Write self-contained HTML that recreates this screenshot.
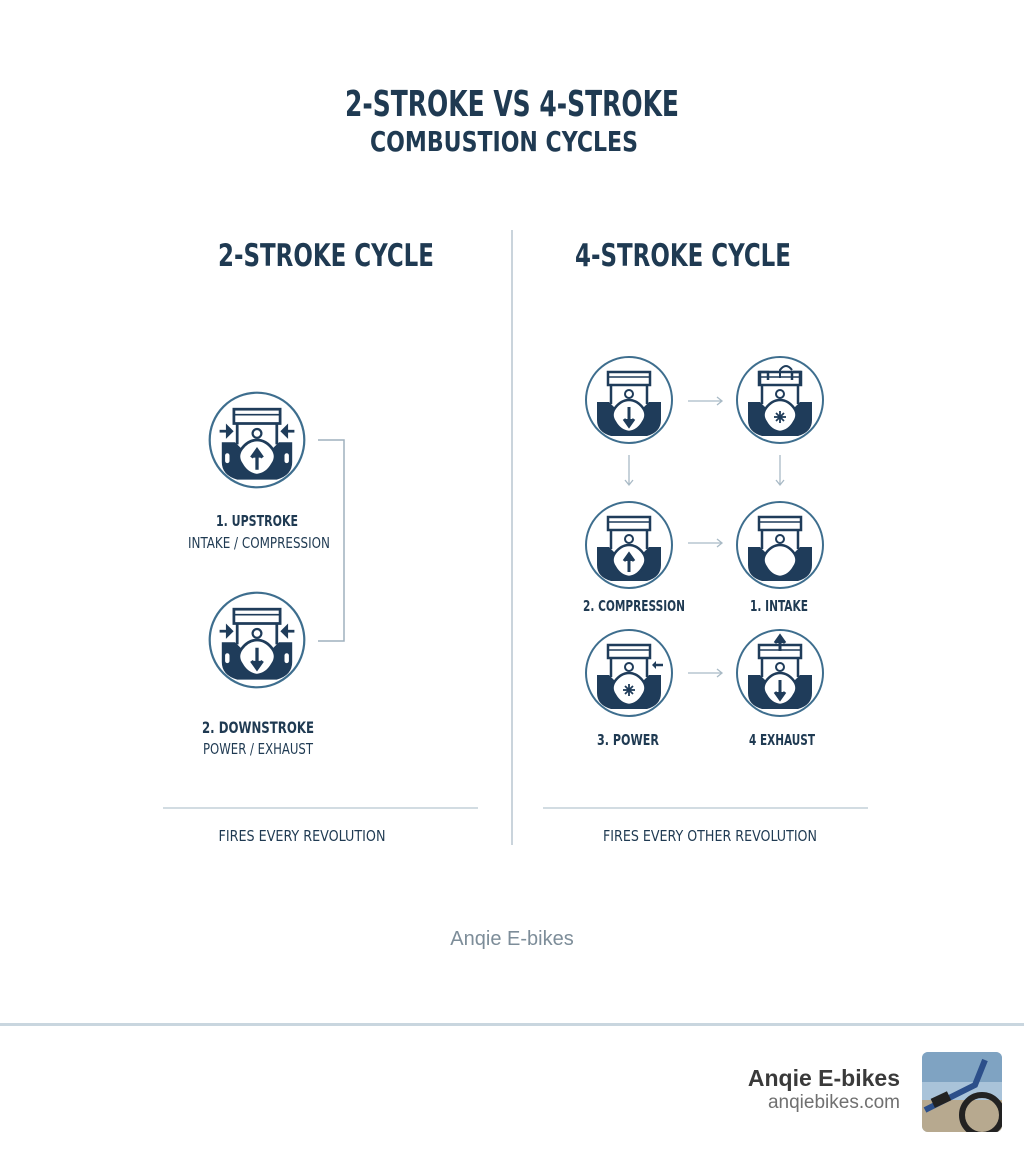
<!DOCTYPE html>
<html><head><meta charset="utf-8"><style>
html,body{margin:0;padding:0;background:#fff;}
svg{display:block}
text{font-family:"Liberation Sans Narrow","DejaVu Sans Condensed","Liberation Sans",sans-serif;fill:#1f3a52;}
</style></head><body>
<svg width="1024" height="1154" viewBox="0 0 1024 1154" xmlns="http://www.w3.org/2000/svg">
<defs>
<g id="base">
  <circle r="43" fill="#fff" stroke="#3e6e8e" stroke-width="2"/>
  <path d="M-32,2 L-20,2 L-14,8 L14,8 L20,2 L32,2 L32,20 Q32,32 18,36 L-18,36 Q-32,32 -32,20 Z" fill="#1f3c5a"/>
  <path d="M-14,8 Q-19,15 -14,22 Q-9,31 0,32 Q9,31 14,22 Q19,15 14,8 Q8,0 0,0 Q-8,0 -14,8Z" fill="#fff" stroke="#1f3c5a" stroke-width="2.5"/>
  <rect x="-21" y="-28" width="42" height="13" fill="none" stroke="#1f3c5a" stroke-width="2.5"/>
  <line x1="-21" y1="-23" x2="21" y2="-23" stroke="#1f3c5a" stroke-width="1.5"/>
  <line x1="-18" y1="-15" x2="-18" y2="4" stroke="#1f3c5a" stroke-width="2.5"/>
  <line x1="18" y1="-15" x2="18" y2="4" stroke="#1f3c5a" stroke-width="2.5"/>
  <circle cx="0" cy="-6" r="4" fill="none" stroke="#1f3c5a" stroke-width="2"/>
</g>
<g id="up"><path d="M0,27 L0,12 M-5,16 L0,9 L5,16" stroke="#1f3c5a" stroke-width="3" fill="#1f3c5a"/></g>
<g id="down"><path d="M0,7 L0,23 M-5,19 L0,26 L5,19" stroke="#1f3c5a" stroke-width="3" fill="#1f3c5a"/></g>
<g id="spark" stroke="#1f3c5a" stroke-width="1.8"><line x1="-6" y1="17" x2="6" y2="17"/><line x1="0" y1="11" x2="0" y2="23"/><line x1="-4" y1="13" x2="4" y2="21"/><line x1="4" y1="13" x2="-4" y2="21"/></g>
<g id="sides" stroke="#1f3c5a" stroke-width="2.5" fill="#1f3c5a"><path d="M-34,-8 L-25,-8"/><path d="M-27,-12 L-23,-8 L-27,-4Z"/><path d="M34,-8 L25,-8"/><path d="M27,-12 L23,-8 L27,-4Z"/></g>
<g id="holes" fill="#fff"><rect x="-29" y="12" width="4" height="9" rx="2"/><rect x="25" y="12" width="4" height="9" rx="2"/></g>
</defs>

<text x="512" y="116" text-anchor="middle" font-size="36" font-weight="bold" textLength="334" lengthAdjust="spacingAndGlyphs">2-STROKE VS 4-STROKE</text>
<text x="504" y="151" text-anchor="middle" font-size="28" font-weight="bold" textLength="268" lengthAdjust="spacingAndGlyphs">COMBUSTION CYCLES</text>

<line x1="512" y1="230" x2="512" y2="845" stroke="#b8c6d0" stroke-width="1.5"/>
<text x="326" y="266" text-anchor="middle" font-size="31" font-weight="bold" textLength="216" lengthAdjust="spacingAndGlyphs">2-STROKE CYCLE</text>
<text x="683" y="266" text-anchor="middle" font-size="31" font-weight="bold" textLength="216" lengthAdjust="spacingAndGlyphs">4-STROKE CYCLE</text>

<g transform="translate(257,440) scale(1.1)"><use href="#base"/><use href="#up"/><use href="#sides"/><use href="#holes"/></g>
<g transform="translate(257,640) scale(1.1)"><use href="#base"/><use href="#down"/><use href="#sides"/><use href="#holes"/></g>
<path d="M318,440 L344,440 L344,641 L318,641" fill="none" stroke="#9fb0bd" stroke-width="1.5"/>
<text x="257" y="526" text-anchor="middle" font-size="15" font-weight="bold" textLength="82" lengthAdjust="spacingAndGlyphs">1. UPSTROKE</text>
<text x="259" y="548" text-anchor="middle" font-size="15" textLength="142" lengthAdjust="spacingAndGlyphs">INTAKE / COMPRESSION</text>
<text x="258" y="733" text-anchor="middle" font-size="16" font-weight="bold" textLength="112" lengthAdjust="spacingAndGlyphs">2. DOWNSTROKE</text>
<text x="258" y="754" text-anchor="middle" font-size="15" textLength="110" lengthAdjust="spacingAndGlyphs">POWER / EXHAUST</text>

<g transform="translate(629,400)"><use href="#base"/><use href="#down"/></g>
<g transform="translate(780,400)"><use href="#base"/><use href="#spark"/>
  <path d="M-20,-15 L-20,-28 L-12,-28 L-12,-20 M12,-20 L12,-28 L20,-28 L20,-15" fill="none" stroke="#1f3c5a" stroke-width="2.5"/>
  <path d="M0,-22 L0,-30 Q6,-38 12,-30" fill="none" stroke="#1f3c5a" stroke-width="2"/></g>
<g transform="translate(629,545)"><use href="#base"/><use href="#up"/></g>
<g transform="translate(780,545)"><use href="#base"/></g>
<g transform="translate(629,673)"><use href="#base"/><use href="#spark"/>
  <path d="M34,-8 L25,-8" stroke="#1f3c5a" stroke-width="2.5"/><path d="M27,-12 L23,-8 L27,-4Z" fill="#1f3c5a"/></g>
<g transform="translate(780,673)"><use href="#base"/><use href="#down"/>
  <path d="M0,-22 L0,-34 M-5,-30 L0,-37 L5,-30" stroke="#1f3c5a" stroke-width="3" fill="#1f3c5a"/></g>

<g stroke="#a9bac6" stroke-width="1.3" fill="none">
  <path d="M688,401 L722,401 M717,397 L722,401 L717,405"/>
  <path d="M688,543 L722,543 M717,539 L722,543 L717,547"/>
  <path d="M688,673 L722,673 M717,669 L722,673 L717,677"/>
  <path d="M629,455 L629,485 M625,480 L629,485 L633,480"/>
  <path d="M780,455 L780,485 M776,480 L780,485 L784,480"/>
</g>
<text x="634" y="611" text-anchor="middle" font-size="15" font-weight="bold" textLength="102" lengthAdjust="spacingAndGlyphs">2. COMPRESSION</text>
<text x="779" y="611" text-anchor="middle" font-size="15" font-weight="bold" textLength="58" lengthAdjust="spacingAndGlyphs">1. INTAKE</text>
<text x="628" y="745" text-anchor="middle" font-size="15" font-weight="bold" textLength="62" lengthAdjust="spacingAndGlyphs">3. POWER</text>
<text x="782" y="745" text-anchor="middle" font-size="15" font-weight="bold" textLength="66" lengthAdjust="spacingAndGlyphs">4 EXHAUST</text>

<line x1="163" y1="808" x2="478" y2="808" stroke="#b8c6d0" stroke-width="1.3"/>
<line x1="543" y1="808" x2="868" y2="808" stroke="#b8c6d0" stroke-width="1.3"/>
<text x="302" y="841" text-anchor="middle" font-size="15" textLength="167" lengthAdjust="spacingAndGlyphs">FIRES EVERY REVOLUTION</text>
<text x="710" y="841" text-anchor="middle" font-size="15" textLength="214" lengthAdjust="spacingAndGlyphs">FIRES EVERY OTHER REVOLUTION</text>

<text x="512" y="945" text-anchor="middle" font-size="20" style="font-family:'Liberation Sans',sans-serif;fill:#7d8d99">Anqie E-bikes</text>

<rect x="0" y="1023" width="1024" height="3" fill="#c9d6df"/>
<text x="900" y="1086" text-anchor="end" font-size="23" font-weight="bold" style="font-family:'Liberation Sans',sans-serif;fill:#3a3a3a">Anqie E-bikes</text>
<text x="900" y="1108" text-anchor="end" font-size="19" style="font-family:'Liberation Sans',sans-serif;fill:#707070">anqiebikes.com</text>
<clipPath id="cp"><rect x="922" y="1052" width="80" height="80" rx="6"/></clipPath>
<g clip-path="url(#cp)">
  <rect x="922" y="1052" width="80" height="80" fill="#a9c3d9"/>
  <rect x="922" y="1052" width="80" height="30" fill="#7fa3c2"/>
  <rect x="922" y="1100" width="80" height="32" fill="#b7a98f"/>
  <circle cx="982" cy="1115" r="20" fill="none" stroke="#222" stroke-width="6"/>
  <path d="M925,1110 L975,1085 L985,1060" stroke="#2c4f8a" stroke-width="6" fill="none"/>
  <rect x="932" y="1095" width="18" height="10" fill="#222" transform="rotate(-25 940 1100)"/>
</g>
</svg>
</body></html>
